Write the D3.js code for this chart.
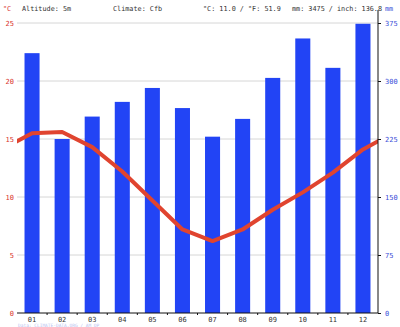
<!DOCTYPE html>
<html>
<head>
<meta charset="utf-8">
<script src="https://cdn.jsdelivr.net/npm/d3@7/dist/d3.min.js"></script>
<style>
  html, body { margin: 0; padding: 0; background: #fff; }
  svg { display: block; }
  text { font-family: "DejaVu Sans Mono", monospace; }
</style>
</head>
<body>
<svg id="chart" width="400" height="327"></svg>
<script>
// Monthly climate values
const months = ["01","02","03","04","05","06","07","08","09","10","11","12"];
const precipitation = [336, 225, 254, 273, 291, 265, 228, 251, 304, 355, 317, 374]; // mm
const temperature = [15.5, 15.6, 14.3, 12.2, 9.7, 7.2, 6.2, 7.2, 8.9, 10.4, 12.1, 14.1]; // °C
const tempTicks = [0, 5, 10, 15, 20, 25];
const precTicks = [0, 75, 150, 225, 300, 375];

const headerItems = [
  { text: "°C", x: 3, color: "#d9332b" },
  { text: "Altitude: 5m", x: 22, color: "#333" },
  { text: "Climate: Cfb", x: 113, color: "#333" },
  { text: "°C: 11.0 / °F: 51.9", x: 203, color: "#333" },
  { text: "mm: 3475 / inch: 136.8", x: 292, color: "#333" },
  { text: "mm", x: 385, color: "#3a4fd8" }
];

const svg = d3.select("#chart");
const plotLeft = 17, plotRight = 378, plotTop = 23, plotBottom = 313;

const x = d3.scaleBand().domain(months).range([plotLeft, plotRight]).paddingInner(0.5).paddingOuter(0.25);
const xc = d3.scaleLinear().domain([0, 12]).range([plotLeft, plotRight]);
const yT = d3.scaleLinear().domain([0, 25]).range([plotBottom, plotTop]);
const yP = d3.scaleLinear().domain([0, 375]).range([plotBottom, plotTop]);

// Horizontal grid
svg.append("g")
  .selectAll("line")
  .data(tempTicks.filter(d => d > 0))
  .join("line")
  .attr("x1", plotLeft).attr("x2", plotRight)
  .attr("y1", d => yT(d)).attr("y2", d => yT(d))
  .attr("stroke", "#d6d6d6").attr("stroke-width", 1);

// Precipitation bars
svg.append("g")
  .selectAll("rect")
  .data(precipitation)
  .join("rect")
  .attr("x", (d, i) => x(months[i]))
  .attr("width", x.bandwidth())
  .attr("y", d => yP(d))
  .attr("height", d => yP(0) - yP(d))
  .attr("fill", "#2244f5");

// Temperature line, wrapped around the year and clipped to the plot
svg.append("defs").append("clipPath").attr("id", "plotClip")
  .append("rect").attr("x", plotLeft).attr("y", 0).attr("width", plotRight - plotLeft).attr("height", plotBottom);

const wrapped = [temperature[11], ...temperature, temperature[0]];
const line = d3.line()
  .x((d, i) => xc(i - 0.5))
  .y(d => yT(d));
svg.append("path")
  .datum(wrapped)
  .attr("clip-path", "url(#plotClip)")
  .attr("d", line)
  .attr("fill", "none")
  .attr("stroke", "#e0442f")
  .attr("stroke-width", 4)
  .attr("stroke-linejoin", "round");

// Bottom axis
const xAxis = svg.append("g").attr("transform", `translate(0,${plotBottom})`);
xAxis.append("line").attr("x1", plotLeft).attr("x2", plotRight).attr("y1", 0).attr("y2", 0)
  .attr("stroke", "#111").attr("stroke-width", 1);
xAxis.selectAll("line.tick")
  .data(d3.range(1, 12))
  .join("line")
  .attr("class", "tick")
  .attr("x1", d => xc(d)).attr("x2", d => xc(d))
  .attr("y1", 0).attr("y2", 2)
  .attr("stroke", "#111");
xAxis.selectAll("text")
  .data(months)
  .join("text")
  .attr("x", d => x(d) + x.bandwidth() / 2)
  .attr("y", 8.5)
  .attr("text-anchor", "middle")
  .attr("font-size", 7)
  .attr("fill", "#333")
  .text(d => d);

// Left temperature labels
svg.append("g")
  .selectAll("text")
  .data(tempTicks)
  .join("text")
  .attr("x", 14)
  .attr("y", d => yT(d) + 2.5)
  .attr("text-anchor", "end")
  .attr("font-size", 7)
  .attr("fill", "#d9332b")
  .text(d => d);

// Right precipitation axis
const yAxisR = d3.axisRight(yP).tickValues(precTicks).tickSize(3).tickFormat(d3.format("d"));
const gR = svg.append("g").attr("transform", `translate(${plotRight},0)`).call(yAxisR);
gR.select(".domain").attr("d", `M0,10V${plotBottom}`).attr("stroke", "#111");
gR.selectAll(".tick line").attr("stroke", "#111");
gR.selectAll(".tick text")
  .attr("x", 7)
  .attr("font-size", 7)
  .attr("font-family", "DejaVu Sans Mono, monospace")
  .attr("fill", "#3a4fd8");

// Header
svg.append("g")
  .selectAll("text")
  .data(headerItems)
  .join("text")
  .attr("x", d => d.x)
  .attr("y", 11)
  .attr("font-size", 6.8)
  .attr("fill", d => d.color)
  .text(d => d.text);

// Footer source
svg.append("text")
  .attr("x", 18).attr("y", 326.8)
  .attr("font-size", 4.5)
  .attr("fill", "#b9c3f0")
  .text("Data: CLIMATE-DATA.ORG / AM OP");
</script>
</body>
</html>
